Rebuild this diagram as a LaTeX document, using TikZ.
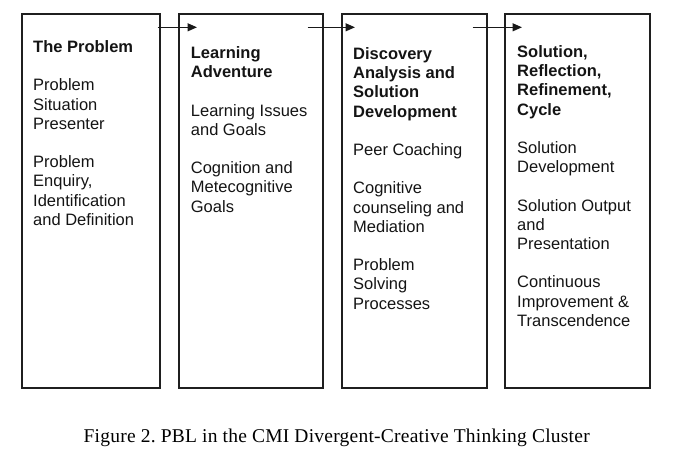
\documentclass[tikz,border=0pt]{standalone}
\usepackage{fontspec}
\setmainfont{Liberation Sans}
\newfontfamily\capfont[LetterSpace=1.2]{Liberation Serif}
\usetikzlibrary{arrows.meta}
\frenchspacing
\begin{document}
\begin{tikzpicture}[x=1pt,y=-1pt,
  stage/.style={draw=black!88,line width=1.7pt,anchor=north west,minimum width=#1,minimum height=374pt,inner sep=0pt},
  stage/.default=145pt,
  body/.style={anchor=north west,inner sep=0pt,align=left,font=\fontsize{16.5}{19.2}\selectfont,text=black!92},
  arr/.style={line width=1.3pt,draw=black!90,-{Triangle[length=9.5pt,width=8pt]}}]
\useasboundingbox (0,0) rectangle (679,464);
\node[stage=138pt] (b1) at (21,13) {};
\node[stage=144pt] (b2) at (178,13) {};
\node[stage=145pt] (b3) at (341,13) {};
\node[stage=145pt] (b4) at (504,13) {};
\node[body] (t1) at (33,40.4) {\textbf{The Problem}\\[19.2pt]Problem\\Situation\\Presenter\\[19.2pt]Problem\\Enquiry,\\Identification\\and Definition};
\node[body] (t2) at (190.7,46.4) {\textbf{Learning}\\\textbf{Adventure}\\[19.2pt]Learning Issues\\and Goals\\[19.2pt]Cognition and\\Metecognitive\\Goals};
\node[body] (t3) at (353,47.4) {\textbf{Discovery}\\\textbf{Analysis and}\\\textbf{Solution}\\\textbf{Development}\\[19.2pt]Peer Coaching\\[19.2pt]Cognitive\\counseling and\\Mediation\\[19.2pt]Problem\\Solving\\Processes};
\node[body] (t4) at (517,45.4) {\textbf{Solution,}\\\textbf{Reflection,}\\\textbf{Refinement,}\\\textbf{Cycle}\\[19.2pt]Solution\\Development\\[19.2pt]Solution Output\\and\\Presentation\\[19.2pt]Continuous\\Improvement \&\\Transcendence};
\draw[arr] ([xshift=-3pt,yshift=-14.3pt]b1.north east) -- ([xshift=19pt,yshift=-14.3pt]b2.north west);
\draw[arr] ([xshift=-16pt,yshift=-14.3pt]b2.north east) -- ([xshift=14pt,yshift=-14.3pt]b3.north west);
\draw[arr] ([xshift=-15pt,yshift=-14.3pt]b3.north east) -- ([xshift=18pt,yshift=-14.3pt]b4.north west);
\node[anchor=base,inner sep=0pt,font=\capfont\fontsize{19.5}{23}\selectfont] (cap) at (336.7,442.3) {Figure 2. PBL in the CMI Divergent-Creative Thinking Cluster};
\end{tikzpicture}
\end{document}
